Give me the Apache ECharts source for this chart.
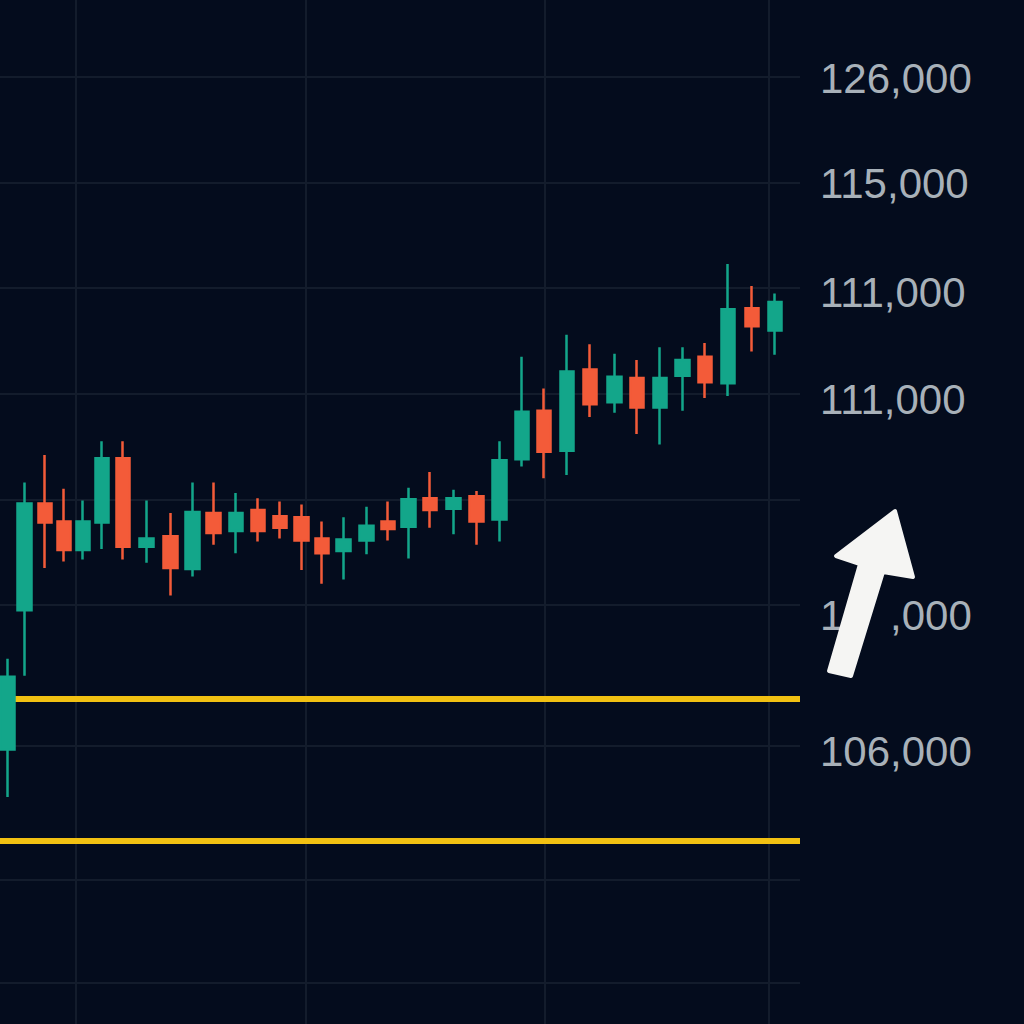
<!DOCTYPE html>
<html>
<head>
<meta charset="utf-8">
<style>
  html, body { margin: 0; padding: 0; background: #040c1d; }
  #chart { width: 1024px; height: 1024px; }
</style>
<script src="https://cdn.jsdelivr.net/npm/echarts@6/dist/echarts.min.js"></script>
</head>
<body>
<div id="chart"></div>
<script>
// ---- data ----
// bar positions along the time axis (in bar-spacing units)
const barPos = [0.34, 1.10, 2.04, 2.90, 3.76, 4.62, 5.57, 6.64, 7.72, 8.72,
  9.67, 10.68, 11.67, 12.67, 13.65, 14.56, 15.55, 16.58, 17.56, 18.48,
  19.46, 20.53, 21.57, 22.61, 23.61, 24.62, 25.66, 26.70, 27.80, 28.83,
  29.87, 30.88, 31.90, 32.94, 34.03, 35.07];
const openV = [107630, 108950, 109960, 109790, 109520, 109780, 110390, 109550, 109650, 109340,
  109870, 109700, 109900, 109840, 109830, 109630, 109510, 109610, 109790, 109740,
  110010, 109910, 110030, 109810, 110380, 110840, 110460, 111230, 110920, 111150,
  110870, 111170, 111350, 111100, 111810, 111600];
const closeV = [108320, 109960, 109780, 109520, 109790, 110390, 109550, 109630, 109350, 109880,
  109680, 109870, 109700, 109730, 109610, 109490, 109620, 109750, 109720, 110000,
  109900, 110010, 109790, 110370, 110830, 110450, 111210, 110900, 111160, 110870,
  111150, 111320, 111110, 111800, 111640, 111870];
const lowV = [107180, 108330, 109350, 109410, 109430, 109530, 109430, 109400, 109090, 109270,
  109570, 109490, 109600, 109630, 109330, 109200, 109240, 109480, 109610, 109440,
  109730, 109670, 109570, 109600, 110310, 110200, 110230, 110780, 110820, 110620,
  110520, 110840, 110960, 110980, 111400, 111370];
const highV = [108490, 110160, 110420, 110100, 109990, 110550, 110550, 109990, 109870, 110160,
  110160, 110060, 110010, 109980, 109950, 109790, 109830, 109930, 109980, 110110,
  110260, 110090, 110080, 110550, 111350, 111050, 111560, 111470, 111380, 111320,
  111440, 111440, 111480, 112230, 112020, 111950];

// axis tick labels (as printed in the reference) and where they sit
const yLabelValues = [113990, 112990, 111960, 110950, 108900, 107610];
const yLabelTexts  = ['126,000', '115,000', '111,000', '111,000', '108,000', '106,000'];
// characters of a label that are hidden behind the arrow: [start, end)
const yLabelHidden = [null, null, null, null, [1, 3], null];

// grid levels
const hGridLevels = [114000, 113000, 112000, 111000, 110000, 109000, 107670, 106400, 105420];
const vGridLevels = [3.44, 13.85, 24.66, 34.80];

// yellow support levels
const supportLevels = [108110, 106770];

// ---- chart ----
const BG = '#040c1d';
const UP = '#13a68a';
const DOWN = '#f35b39';
const LABEL = '#a8b1b9';

const candleData = barPos.map((x, i) => [x, openV[i], closeV[i], lowV[i], highV[i]]);

const chart = echarts.init(document.getElementById('chart'), null, { renderer: 'svg' });

chart.setOption({
  backgroundColor: BG,
  animation: false,
  grid: { left: 0, top: 0, width: 800, height: 1024 },
  xAxis: {
    type: 'value', min: 0, max: 36.2, show: false,
    splitLine: { show: false }
  },
  yAxis: {
    type: 'value', position: 'right',
    min: 105030, max: 114730, scale: true,
    axisLine: { show: false },
    axisTick: { show: false },
    splitLine: { show: false },
    axisLabel: {
      show: true,
      customValues: yLabelValues,
      formatter: (v) => {
        const k = yLabelValues.indexOf(v);
        if (k < 0) return '';
        const t = yLabelTexts[k];
        const h = yLabelHidden[k];
        if (!h) return '{a|' + t + '}';
        return '{a|' + t.slice(0, h[0]) + '}{h|' + t.slice(h[0], h[1]) + '}{a|' + t.slice(h[1]) + '}';
      },
      margin: 20,
      color: LABEL,
      fontSize: 42,
      fontFamily: 'Liberation Sans, Arial, sans-serif',
      rich: {
        a: { color: LABEL, fontSize: 42, fontFamily: 'Liberation Sans, Arial, sans-serif' },
        h: { color: BG, fontSize: 42, fontFamily: 'Liberation Sans, Arial, sans-serif' }
      }
    }
  },
  series: [
    {
      type: 'line', data: [], z: 1, silent: true,
      markLine: {
        z: 1, silent: true, symbol: ['none', 'none'],
        label: { show: false },
        lineStyle: { color: '#131c2c', width: 2, type: 'solid' },
        emphasis: { disabled: true },
        data: hGridLevels.map(v => ({ yAxis: v }))
          .concat(vGridLevels.map(v => ({ xAxis: v })))
      }
    },
    {
      type: 'line', data: [], z: 2, silent: true,
      markLine: {
        z: 2, silent: true, symbol: ['none', 'none'],
        label: { show: false },
        lineStyle: { color: '#f2c112', width: 6, type: 'solid' },
        emphasis: { disabled: true },
        data: supportLevels.map(v => ({ yAxis: v }))
      }
    },
    {
      type: 'candlestick', z: 5,
      barWidth: 14,
      data: candleData,
      itemStyle: {
        color: UP, color0: DOWN,
        borderColor: UP, borderColor0: DOWN,
        borderWidth: 2.5
      }
    }
  ],
  graphic: [
    {
      type: 'polygon', z: 101, silent: true,
      shape: {
        points: [[895, 511], [913, 577], [883, 572], [851, 676], [829, 671], [860, 564], [836, 556]]
      },
      style: { fill: '#f5f5f3', stroke: '#f5f5f3', lineWidth: 4, lineJoin: 'round' }
    }
  ]
});
</script>
</body>
</html>
